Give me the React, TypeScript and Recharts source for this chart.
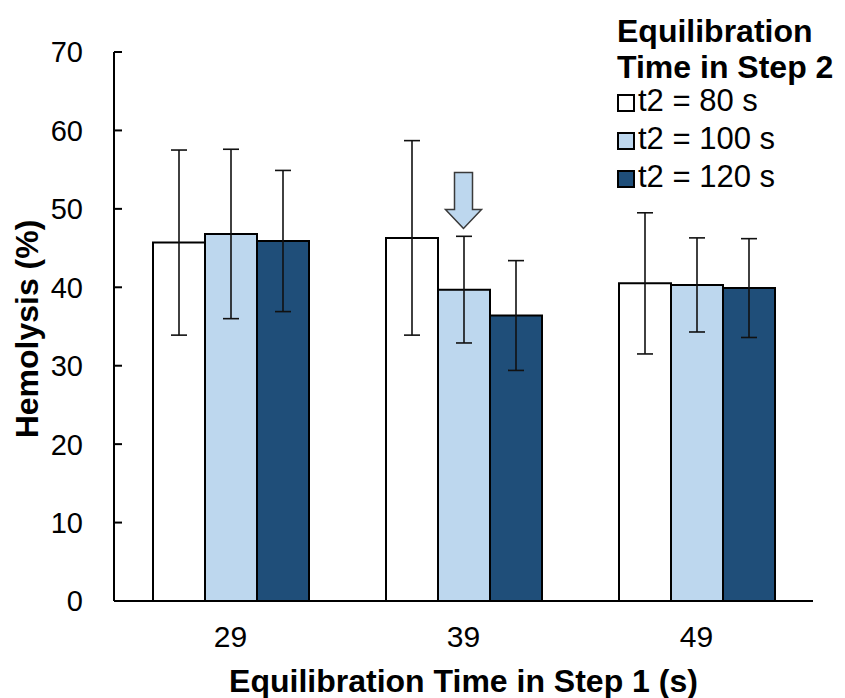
import React from 'react';
import {
  BarChart,
  Bar,
  XAxis,
  YAxis,
  ErrorBar,
  Legend,
  Label,
  ReferenceDot
} from 'recharts';

// Equilibration time in step 1 (s)
const categories = ['29', '39', '49'];

// Series names (equilibration time in step 2)
const seriesNames = ['t2 = 80 s', 't2 = 100 s', 't2 = 120 s'];

// Mean hemolysis (%) for each step-2 equilibration time
const hemolysis80 = [45.7, 46.3, 40.5];
const hemolysis100 = [46.8, 39.7, 40.3];
const hemolysis120 = [45.9, 36.4, 39.9];

// Standard deviations
const sd80 = [11.8, 12.4, 9.0];
const sd100 = [10.8, 6.8, 6.0];
const sd120 = [9.0, 7.0, 6.3];

const yTicks = [0, 10, 20, 30, 40, 50, 60, 70];

// arrow highlighting the t2 = 100 s bar at 39 s
const ARROW_X = '39';
const ARROW_TIP = 47.5;

const FONT = '"Liberation Sans", Arial, sans-serif';
const WHITE = '#ffffff';
const LIGHT_BLUE = '#bdd7ee';
const DARK_BLUE = '#1f4e79';

const data = categories.map((time, i) => ({
  time,
  t80: hemolysis80[i],
  t100: hemolysis100[i],
  t120: hemolysis120[i],
  sd80: sd80[i],
  sd100: sd100[i],
  sd120: sd120[i]
}));

const TICK_GAP = 31;

const YTick = ({ x, y, payload }: { x: number; y: number; payload: { value: number } }) => (
  <g>
    <line x1={x + TICK_GAP} x2={x + TICK_GAP + 8} y1={y} y2={y} stroke="#000" strokeWidth={2} />
    <text x={x} y={y} dy="0.36em" textAnchor="end" fontSize={29} fontFamily={FONT} fill="#000">
      {payload.value}
    </text>
  </g>
);

const YTitle = () => (
  <text
    x={38}
    y={329}
    transform="rotate(-90 38 329)"
    textAnchor="middle"
    fontSize={32}
    fontWeight="bold"
    fontFamily={FONT}
    fill="#000"
  >
    Hemolysis (%)
  </text>
);

const Arrow = ({ cx, cy }: { cx?: number; cy?: number }) => {
  if (cx == null || cy == null) return null;
  const pts = [
    [cx, cy],
    [cx - 18, cy - 19],
    [cx - 9, cy - 19],
    [cx - 9, cy - 56],
    [cx + 9, cy - 56],
    [cx + 9, cy - 19],
    [cx + 18, cy - 19]
  ]
    .map((p) => p.join(','))
    .join(' ');
  return <polygon points={pts} fill={LIGHT_BLUE} stroke="#3a3a3a" strokeWidth={1.5} />;
};

const renderLegend = (props: { payload?: { value: string; color: string }[] }) => {
  const items = [...(props.payload || [])].sort(
    (a, b) => seriesNames.indexOf(a.value) - seriesNames.indexOf(b.value)
  );
  return (
    <div style={{ fontFamily: FONT, color: '#000', paddingTop: 13 }}>
      <div style={{ fontSize: 32, fontWeight: 'bold', lineHeight: '36px', whiteSpace: 'nowrap' }}>Equilibration</div>
      <div style={{ fontSize: 32, fontWeight: 'bold', lineHeight: '36px', whiteSpace: 'nowrap' }}>Time in Step 2</div>
      <div style={{ marginTop: -3 }}>
        {items.map((entry) => (
          <div key={entry.value} style={{ fontSize: 31, lineHeight: '38px', whiteSpace: 'nowrap' }}>
            <span
              style={{
                display: 'inline-block',
                width: 14,
                height: 14,
                border: '2px solid #000',
                background: entry.color,
                marginRight: 3,
                position: 'relative',
                top: 1
              }}
            />
            {entry.value}
          </div>
        ))}
      </div>
    </div>
  );
};

export default function App() {
  return (
    <div style={{ position: 'absolute', left: 0, top: 0, width: 845, height: 698, background: '#fff' }}>
      <BarChart
        width={845}
        height={698}
        data={data}
        margin={{ top: 52, right: 32, bottom: 0, left: 0 }}
        barCategoryGap={39}
        barGap={0}
      >
        <XAxis
          dataKey="time"
          height={97}
          tickLine={false}
          tickSize={0}
          tickMargin={25}
          axisLine={{ stroke: '#000', strokeWidth: 2 }}
          tick={{ fontSize: 30, fontFamily: FONT, fill: '#000' }}
        >
          <Label
            value="Equilibration Time in Step 1 (s)"
            position="insideBottom"
            offset={6}
            style={{ fontSize: 32, fontWeight: 'bold', fontFamily: FONT, fill: '#000' }}
          />
        </XAxis>
        <YAxis
          width={114}
          domain={[0, 70]}
          ticks={yTicks}
          interval={0}
          tickLine={false}
          tickSize={0}
          tickMargin={TICK_GAP}
          axisLine={{ stroke: '#000', strokeWidth: 2 }}
          tick={YTick}
        >
          <Label content={YTitle} />
        </YAxis>
        <Legend
          layout="vertical"
          align="center"
          verticalAlign="middle"
          content={renderLegend}
          wrapperStyle={{ top: 0, left: 617, width: 228, height: 200 }}
        />
        <Bar dataKey="t80" name={seriesNames[0]} fill={WHITE} stroke="#000" strokeWidth={2} isAnimationActive={false}>
          <ErrorBar dataKey="sd80" width={8} strokeWidth={1.6} stroke="#111" direction="y" />
        </Bar>
        <Bar dataKey="t100" name={seriesNames[1]} fill={LIGHT_BLUE} stroke="#000" strokeWidth={2} isAnimationActive={false}>
          <ErrorBar dataKey="sd100" width={8} strokeWidth={1.6} stroke="#111" direction="y" />
        </Bar>
        <Bar dataKey="t120" name={seriesNames[2]} fill={DARK_BLUE} stroke="#000" strokeWidth={2} isAnimationActive={false}>
          <ErrorBar dataKey="sd120" width={8} strokeWidth={1.6} stroke="#111" direction="y" />
        </Bar>
        <ReferenceDot x={ARROW_X} y={ARROW_TIP} r={0} ifOverflow="visible" shape={Arrow} />
      </BarChart>
    </div>
  );
}
